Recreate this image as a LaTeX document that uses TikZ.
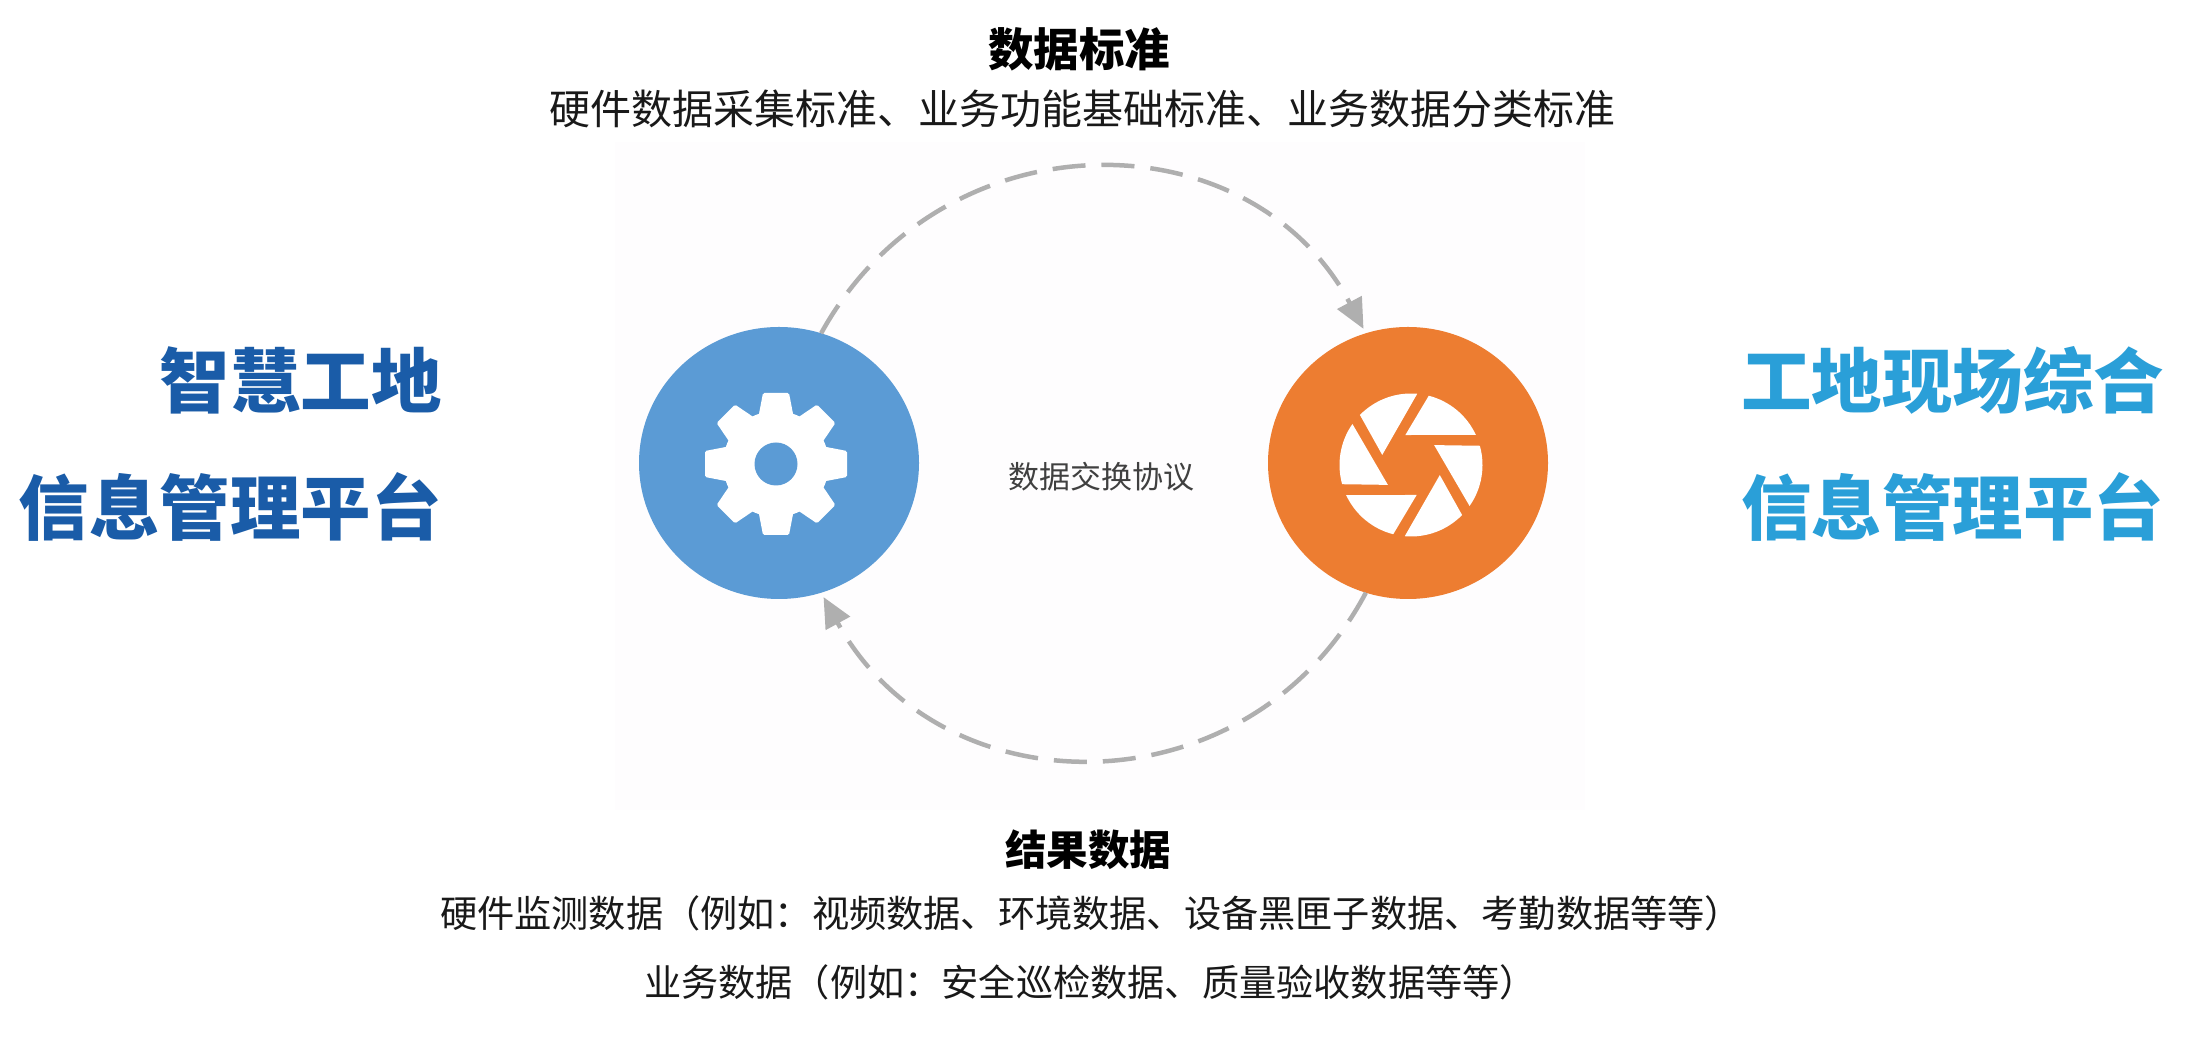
\documentclass[tikz,border=0pt]{standalone}
\usepackage{fontspec}
\usetikzlibrary{arrows.meta,shapes.geometric}
\newfontfamily\cjk{Noto Sans CJK SC}
\definecolor{blueC}{HTML}{5B9BD5}
\definecolor{orangeC}{HTML}{ED7D31}
\definecolor{flowC}{HTML}{AFAFAF}
\definecolor{navyT}{HTML}{1A5CA8}
\definecolor{skyT}{HTML}{2A9FD8}
\definecolor{paperC}{HTML}{FEFDFE}
\tikzset{
  disc/.style={ellipse,draw=none,minimum width=280pt,minimum height=272pt,inner sep=0pt,outer sep=0pt},
  flow/.style={draw=flowC,line width=4.5pt,dash pattern=on 33pt off 16pt,shorten >=5pt,-{Triangle[length=30pt,width=27pt]}},
  bigT/.style={inner sep=0pt,font=\cjk\bfseries\fontsize{70.5}{80}\selectfont},
  headT/.style={inner sep=0pt,text=black,font=\cjk\bfseries\fontsize{45.5}{50}\selectfont},
  headB/.style={inner sep=0pt,text=black,font=\cjk\bfseries\fontsize{41.5}{50}\selectfont},
  bodyT/.style={inner sep=0pt,text=black!90,font=\cjk\fontsize{41}{48}\selectfont},
  exT/.style={inner sep=0pt,text=black!90,font=\cjk\fontsize{37.2}{44}\selectfont},
  midT/.style={inner sep=0pt,text=black!75,font=\cjk\fontsize{31}{38}\selectfont}
}
\begin{document}
\begin{tikzpicture}[x=1pt,y=1pt]
\useasboundingbox (0,0) rectangle (2188,1057);
\fill[white] (0,0) rectangle (2188,1057);
\fill[paperC] (615,247) rectangle (1585,915);
\node[disc,fill=blueC] (blue) at (779,594) {};
\node[disc,fill=orangeC] (orange) at (1408,594) {};
% gear
\begin{scope}[shift={(776,593)}]
  \fill[white] (0,0) circle (53);
  \foreach \a in {0,45,...,315}{
    \fill[white,rotate=\a,rounded corners=1.5pt] (45,-18) -- (71,-13) -- (71,13) -- (45,18) -- cycle;
  }
  \fill[blueC] (0,0) circle (21.5);
\end{scope}
% shutter
\begin{scope}[shift={(1411,592)}]
  \foreach \a in {0,60,...,300}{
    \fill[white,rotate=\a] (100.7:30.5) -- (75.6:71.5) arc[start angle=75.6,end angle=25,radius=71.5] -- cycle;
  }
\end{scope}
\draw[flow] (blue.72) .. controls (942,943) and (1249,943) .. (orange.108);
\draw[flow] (orange.-108) .. controls (1249,244) and (942,244) .. (blue.-72);
\node[bigT,text=navyT,anchor=east] (l1) at (442,677) {智慧工地};
\node[bigT,text=navyT,anchor=east] (l2) at (442,550) {信息管理平台};
\node[bigT,text=skyT,anchor=west] (r1) at (1741,677) {工地现场综合};
\node[bigT,text=skyT,anchor=west] (r2) at (1741,550) {信息管理平台};
\node[headT] (t1) at (1079,1008) {数据标准};
\node[bodyT] (t2) at (1082.5,948.5) {硬件数据采集标准、业务功能基础标准、业务数据分类标准};
\node[midT] (mid) at (1101,580) {数据交换协议};
\node[headB] (b1) at (1088,207) {结果数据};
\node[exT] (b2) at (1091,144) {硬件监测数据（例如：视频数据、环境数据、设备黑匣子数据、考勤数据等等）};
\node[exT] (b3) at (1090.5,75) {业务数据（例如：安全巡检数据、质量验收数据等等）};
\end{tikzpicture}
\end{document}
